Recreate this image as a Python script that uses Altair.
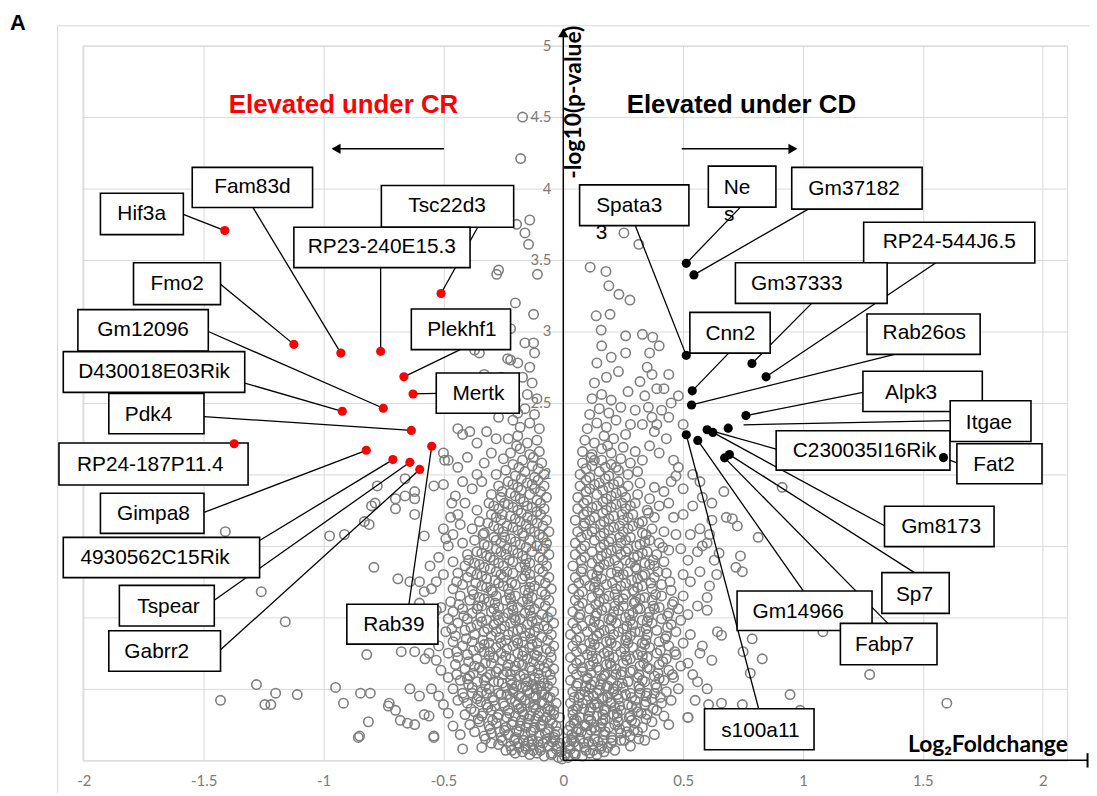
import altair as alt
import pandas as pd

# ---------------- grey genes (log2 fold change, -log10 p) ----------------
grey_left = [
 (-0.02,0.02),(-0.05,0.04),(-0.08,0.03),(-0.11,0.05),(-0.14,0.04),(-0.17,0.06),(-0.2,0.05),(-0.24,0.07),
 (-0.03,0.08),(-0.06,0.1),(-0.1,0.09),(-0.13,0.11),(-0.16,0.1),(-0.19,0.12),(-0.22,0.1),(-0.27,0.11),(-0.3,0.12),(-0.34,0.09),(-0.42,0.08),
 (-0.04,0.16),(-0.07,0.15),(-0.1,0.17),(-0.13,0.15),(-0.16,0.18),(-0.2,0.16),(-0.23,0.18),(-0.26,0.16),(-0.3,0.19),(-0.33,0.17),(-0.37,0.2),(-0.43,0.18),
 (-0.03,0.24),(-0.06,0.22),(-0.09,0.25),(-0.12,0.23),(-0.15,0.26),(-0.18,0.24),(-0.21,0.27),(-0.24,0.23),(-0.28,0.26),(-0.31,0.24),(-0.35,0.27),(-0.39,0.25),(-0.46,0.24),
 (-0.04,0.32),(-0.07,0.3),(-0.1,0.33),(-0.14,0.31),(-0.17,0.34),(-0.2,0.31),(-0.23,0.35),(-0.27,0.32),(-0.3,0.35),(-0.34,0.31),(-0.37,0.34),(-0.41,0.32),(-0.48,0.33),
 (-0.03,0.4),(-0.06,0.38),(-0.09,0.41),(-0.12,0.39),(-0.16,0.42),(-0.19,0.39),(-0.22,0.43),(-0.25,0.4),(-0.29,0.42),(-0.32,0.39),(-0.36,0.43),(-0.4,0.4),(-0.44,0.42),(-0.5,0.39),
 (-0.04,0.48),(-0.08,0.46),(-0.11,0.5),(-0.14,0.47),(-0.17,0.51),(-0.21,0.48),(-0.24,0.51),(-0.27,0.47),(-0.31,0.5),(-0.34,0.48),(-0.38,0.51),(-0.42,0.47),(-0.46,0.5),
 (-0.05,0.56),(-0.08,0.54),(-0.12,0.58),(-0.15,0.55),(-0.18,0.59),(-0.22,0.56),(-0.25,0.6),(-0.29,0.55),(-0.32,0.58),(-0.36,0.55),(-0.39,0.59),(-0.43,0.56),(-0.48,0.58),
 (-0.04,0.64),(-0.07,0.62),(-0.1,0.66),(-0.13,0.63),(-0.17,0.67),(-0.2,0.63),(-0.23,0.67),(-0.27,0.64),(-0.3,0.68),(-0.34,0.63),(-0.37,0.66),(-0.41,0.64),(-0.45,0.67),(-0.51,0.63),
 (-0.05,0.72),(-0.09,0.7),(-0.12,0.74),(-0.15,0.71),(-0.19,0.75),(-0.22,0.71),(-0.26,0.75),(-0.29,0.72),(-0.33,0.76),(-0.36,0.71),(-0.4,0.74),(-0.44,0.72),(-0.48,0.75),
 (-0.04,0.8),(-0.07,0.78),(-0.11,0.82),(-0.14,0.79),(-0.17,0.83),(-0.21,0.8),(-0.24,0.84),(-0.28,0.79),(-0.31,0.82),(-0.35,0.79),(-0.38,0.83),(-0.42,0.8),(-0.46,0.83),(-0.52,0.8),
 (-0.05,0.88),(-0.09,0.86),(-0.12,0.9),(-0.16,0.87),(-0.19,0.91),(-0.23,0.88),(-0.26,0.92),(-0.3,0.87),(-0.33,0.9),(-0.37,0.88),(-0.41,0.91),(-0.45,0.87),(-0.49,0.9),
 (-0.04,0.96),(-0.08,0.94),(-0.11,0.98),(-0.15,0.95),(-0.18,0.99),(-0.22,0.96),(-0.25,1.0),(-0.29,0.95),(-0.32,0.98),(-0.36,0.95),(-0.4,0.99),(-0.44,0.96),(-0.48,0.99),
 (-0.05,1.04),(-0.09,1.02),(-0.12,1.06),(-0.16,1.03),(-0.19,1.07),(-0.23,1.03),(-0.27,1.07),(-0.3,1.04),(-0.34,1.08),(-0.38,1.03),(-0.42,1.06),(-0.46,1.04),(-0.51,1.07),
 (-0.06,1.12),(-0.1,1.1),(-0.13,1.14),(-0.17,1.11),(-0.2,1.15),(-0.24,1.12),(-0.28,1.15),(-0.31,1.11),(-0.35,1.14),(-0.39,1.12),(-0.43,1.15),(-0.47,1.11),
 (-0.05,1.2),(-0.09,1.18),(-0.12,1.22),(-0.16,1.19),(-0.2,1.23),(-0.23,1.2),(-0.27,1.24),(-0.3,1.19),(-0.34,1.22),(-0.38,1.19),(-0.42,1.23),(-0.46,1.2),
 (-0.06,1.28),(-0.1,1.26),(-0.14,1.3),(-0.17,1.27),(-0.21,1.31),(-0.25,1.28),(-0.28,1.32),(-0.32,1.27),(-0.36,1.3),(-0.4,1.28),(-0.44,1.31),
 (-0.07,1.36),(-0.1,1.34),(-0.14,1.38),(-0.18,1.35),(-0.21,1.39),(-0.25,1.36),(-0.29,1.4),(-0.33,1.35),(-0.37,1.38),(-0.41,1.36),(-0.46,1.39),
 (-0.06,1.44),(-0.1,1.42),(-0.13,1.46),(-0.17,1.43),(-0.21,1.47),(-0.24,1.44),(-0.28,1.48),(-0.32,1.43),(-0.36,1.46),(-0.4,1.44),
 (-0.07,1.52),(-0.11,1.5),(-0.14,1.54),(-0.18,1.51),(-0.22,1.55),(-0.26,1.52),(-0.29,1.56),(-0.33,1.51),(-0.37,1.54),(-0.42,1.52),
 (-0.06,1.6),(-0.1,1.58),(-0.14,1.62),(-0.17,1.59),(-0.21,1.63),(-0.25,1.6),(-0.29,1.64),(-0.33,1.59),(-0.38,1.62),
 (-0.07,1.68),(-0.11,1.66),(-0.15,1.7),(-0.18,1.67),(-0.22,1.71),(-0.26,1.68),(-0.3,1.72),(-0.35,1.67),
 (-0.08,1.76),(-0.11,1.74),(-0.15,1.78),(-0.19,1.75),(-0.23,1.79),(-0.27,1.76),(-0.31,1.8),
 (-0.07,1.84),(-0.11,1.82),(-0.14,1.86),(-0.18,1.83),(-0.22,1.87),(-0.26,1.84),(-0.3,1.86),
 (-0.08,1.92),(-0.12,1.9),(-0.15,1.94),(-0.19,1.91),(-0.23,1.95),(-0.27,1.92),
 (-0.08,2.0),(-0.12,1.98),(-0.16,2.02),(-0.2,1.99),(-0.24,2.03),(-0.28,2.0),
 (-0.09,2.08),(-0.13,2.06),(-0.17,2.1),(-0.21,2.07),(-0.25,2.11),
 (-0.1,2.16),(-0.14,2.14),(-0.18,2.18),(-0.22,2.15),
 (-0.11,2.24),(-0.15,2.22),(-0.19,2.27),(-0.23,2.25),
 (-0.1,2.32),(-0.14,2.36),(-0.18,2.33),(-0.21,2.38),
 (-0.12,2.42),(-0.16,2.46),(-0.19,2.43),
 (-0.11,2.53),(-0.15,2.56),(-0.2,2.52),
 (-0.13,2.64),(-0.17,2.68),(-0.14,2.75),(-0.19,2.78),(-0.12,2.85),(-0.232,2.81),(-0.16,2.92),
 (-0.48,2.1),(-0.44,2.05),(-0.4,2.12),(-0.36,2.0),(-0.33,2.08),(-0.42,1.95),(-0.38,1.9),(-0.34,1.95),
 (-0.45,1.85),(-0.41,1.8),(-0.36,1.75),(-0.47,1.7),(-0.43,1.65),(-0.49,1.55),(-0.3,2.15),(-0.28,2.25),
 (-0.32,2.3),(-0.36,2.22),(-0.27,2.4),(-0.3,2.5),(-0.24,2.55),(-0.42,2.28),(-0.44,2.32),(-0.39,2.3),
 (-0.22,2.8),(-0.26,2.68),
 (-0.53,1.05),(-0.55,1.2),(-0.5,1.3),(-0.52,1.42),(-0.48,1.5),(-0.46,1.58),(-0.44,1.72),(-0.5,1.62),
 (-0.54,0.95),(-0.56,0.75),(-0.53,0.7),(-0.55,0.5),(-0.52,0.45),
]

grey_left_fill = [
 (-0.065,0.2),(-0.125,0.21),(-0.185,0.2),(-0.245,0.21),(-0.305,0.22),
 (-0.055,0.28),(-0.115,0.29),(-0.175,0.28),(-0.235,0.3),(-0.295,0.28),(-0.355,0.29),
 (-0.065,0.36),(-0.125,0.37),(-0.185,0.36),(-0.245,0.38),(-0.315,0.37),(-0.385,0.36),
 (-0.055,0.44),(-0.115,0.45),(-0.175,0.44),(-0.235,0.46),(-0.295,0.44),(-0.355,0.45),(-0.415,0.44),
 (-0.065,0.52),(-0.125,0.53),(-0.195,0.52),(-0.255,0.54),(-0.325,0.52),(-0.395,0.53),
 (-0.055,0.6),(-0.105,0.61),(-0.165,0.6),(-0.235,0.62),(-0.305,0.6),(-0.375,0.61),(-0.445,0.6),
 (-0.065,0.68),(-0.125,0.69),(-0.185,0.68),(-0.255,0.7),(-0.325,0.68),(-0.395,0.69),
 (-0.055,0.76),(-0.105,0.77),(-0.165,0.76),(-0.235,0.78),(-0.305,0.76),(-0.375,0.77),(-0.445,0.76),
 (-0.065,0.84),(-0.135,0.85),(-0.195,0.84),(-0.265,0.86),(-0.335,0.84),(-0.405,0.85),
 (-0.065,0.92),(-0.105,0.93),(-0.175,0.92),(-0.245,0.94),(-0.315,0.92),(-0.385,0.93),(-0.465,0.92),
 (-0.065,1.0),(-0.135,1.01),(-0.205,1.0),(-0.275,1.02),(-0.345,1.0),(-0.415,1.01),
 (-0.075,1.08),(-0.145,1.09),(-0.215,1.08),(-0.285,1.1),(-0.355,1.08),(-0.435,1.09),
 (-0.075,1.16),(-0.145,1.17),(-0.225,1.16),(-0.295,1.18),(-0.375,1.16),
 (-0.075,1.24),(-0.135,1.25),(-0.215,1.24),(-0.285,1.26),(-0.365,1.24),(-0.445,1.25),
 (-0.085,1.32),(-0.155,1.33),(-0.235,1.32),(-0.305,1.34),(-0.385,1.32),
 (-0.085,1.4),(-0.155,1.41),(-0.225,1.4),(-0.305,1.42),(-0.395,1.4),
 (-0.085,1.48),(-0.155,1.49),(-0.235,1.48),(-0.315,1.5),
 (-0.085,1.56),(-0.165,1.57),(-0.245,1.56),(-0.335,1.58),
 (-0.085,1.64),(-0.155,1.65),(-0.235,1.64),(-0.315,1.66),
 (-0.095,1.72),(-0.175,1.73),(-0.255,1.72),
 (-0.095,1.8),(-0.165,1.81),(-0.245,1.8),
 (-0.095,1.88),(-0.175,1.89),(-0.255,1.88),
 (-0.105,1.96),(-0.175,1.97),(-0.105,2.04),(-0.185,2.05),(-0.125,2.12),(-0.195,2.2),
 (-0.035,0.14),(-0.095,0.07),(-0.155,0.08),(-0.215,0.07),(-0.005,0.01),
 (-0.045,0.05),(-0.125,0.07),(-0.185,0.09),(-0.255,0.14),(-0.025,0.1),(-0.085,0.12),(-0.145,0.13),(-0.205,0.14),(-0.265,0.2),(-0.325,0.15),
 (-0.035,0.18),(-0.095,0.24),(-0.155,0.23),(-0.215,0.25),(-0.275,0.3),(-0.335,0.33),(-0.045,0.26),(-0.105,0.31),(-0.165,0.32),(-0.225,0.33),
 (-0.285,0.38),(-0.345,0.41),(-0.04,0.35),(-0.08,0.4),(-0.14,0.4),(-0.2,0.41),(-0.26,0.46),(-0.32,0.47),(-0.38,0.47),(-0.09,0.48),(-0.15,0.49),(-0.21,0.5),
 (-0.27,0.55),(-0.33,0.56),(-0.4,0.57),(-0.1,0.57),(-0.16,0.57),(-0.22,0.6),(-0.28,0.62),(-0.35,0.65),(-0.08,0.65),(-0.14,0.65),(-0.2,0.66),
 (-0.11,0.73),(-0.17,0.73),(-0.24,0.73),(-0.31,0.73),(-0.13,0.81),(-0.19,0.82),(-0.26,0.82),(-0.33,0.81),(-0.14,0.89),(-0.21,0.9),(-0.28,0.9),
 (-0.13,0.97),(-0.2,0.98),(-0.27,0.98),(-0.34,0.97),(-0.14,1.05),(-0.21,1.05),(-0.29,1.06),(-0.36,1.06),(-0.15,1.13),(-0.22,1.13),(-0.33,1.13),
 (-0.14,1.21),(-0.25,1.22),(-0.32,1.21),(-0.16,1.29),(-0.26,1.3),(-0.34,1.29),(-0.16,1.37),(-0.27,1.38),(-0.35,1.37),(-0.19,1.45),(-0.26,1.46),(-0.34,1.45),
 (-0.2,1.53),(-0.28,1.54),(-0.12,1.6),(-0.19,1.61),(-0.27,1.62),(-0.13,1.68),(-0.2,1.69),(-0.28,1.7),(-0.13,1.77),(-0.21,1.77),(-0.29,1.78),(-0.2,1.85),(-0.13,1.93),(-0.21,1.93),
]

grey_right = [
 (0.02,0.02),(0.05,0.04),(0.08,0.03),(0.11,0.05),(0.14,0.04),(0.17,0.06),(0.03,0.08),(0.06,0.1),(0.09,0.09),(0.12,0.11),(0.16,0.1),(0.2,0.12),(0.24,0.14),(0.34,0.14),(0.28,0.1),
 (0.04,0.16),(0.07,0.15),(0.1,0.18),(0.13,0.15),(0.17,0.18),(0.2,0.16),(0.24,0.19),(0.28,0.17),(0.31,0.2),(0.38,0.18),
 (0.03,0.24),(0.06,0.22),(0.09,0.25),(0.13,0.23),(0.16,0.26),(0.19,0.23),(0.23,0.27),(0.26,0.24),(0.3,0.26),(0.33,0.23),(0.37,0.27),(0.44,0.25),
 (0.04,0.32),(0.07,0.3),(0.11,0.34),(0.14,0.31),(0.17,0.35),(0.21,0.32),(0.24,0.35),(0.28,0.31),(0.31,0.34),(0.35,0.32),(0.39,0.35),(0.42,0.31),(0.52,0.3),
 (0.03,0.4),(0.06,0.38),(0.1,0.42),(0.13,0.39),(0.16,0.43),(0.2,0.4),(0.23,0.43),(0.27,0.39),(0.3,0.42),(0.34,0.39),(0.37,0.43),(0.41,0.4),(0.45,0.42),
 (0.04,0.48),(0.07,0.46),(0.11,0.5),(0.14,0.47),(0.18,0.51),(0.21,0.48),(0.25,0.51),(0.28,0.47),(0.32,0.5),(0.35,0.47),(0.39,0.51),(0.43,0.48),(0.48,0.5),
 (0.03,0.56),(0.06,0.54),(0.1,0.58),(0.13,0.55),(0.17,0.59),(0.2,0.56),(0.24,0.6),(0.27,0.55),(0.31,0.58),(0.34,0.55),(0.38,0.59),(0.42,0.56),(0.46,0.58),
 (0.04,0.64),(0.08,0.62),(0.11,0.66),(0.15,0.63),(0.18,0.67),(0.22,0.64),(0.25,0.68),(0.29,0.63),(0.32,0.66),(0.36,0.64),(0.4,0.67),(0.44,0.63),(0.49,0.66),
 (0.03,0.72),(0.07,0.7),(0.1,0.74),(0.14,0.71),(0.17,0.75),(0.21,0.72),(0.24,0.76),(0.28,0.71),(0.31,0.74),(0.35,0.72),(0.39,0.75),(0.43,0.71),(0.47,0.74),
 (0.04,0.8),(0.08,0.78),(0.11,0.82),(0.15,0.79),(0.18,0.83),(0.22,0.8),(0.26,0.84),(0.29,0.79),(0.33,0.82),(0.36,0.79),(0.4,0.83),(0.44,0.8),(0.5,0.82),
 (0.03,0.88),(0.07,0.86),(0.1,0.9),(0.14,0.87),(0.17,0.91),(0.21,0.88),(0.25,0.92),(0.28,0.87),(0.32,0.9),(0.35,0.88),(0.39,0.91),(0.43,0.87),(0.47,0.9),
 (0.04,0.96),(0.08,0.94),(0.11,0.98),(0.15,0.95),(0.19,0.99),(0.22,0.96),(0.26,1.0),(0.29,0.95),(0.33,0.98),(0.37,0.96),(0.41,0.99),(0.45,0.95),(0.49,0.98),
 (0.04,1.04),(0.07,1.02),(0.11,1.06),(0.14,1.03),(0.18,1.07),(0.21,1.04),(0.25,1.08),(0.29,1.03),(0.32,1.06),(0.36,1.04),(0.4,1.07),(0.44,1.03),(0.48,1.06),
 (0.05,1.12),(0.08,1.1),(0.12,1.14),(0.15,1.11),(0.19,1.15),(0.23,1.12),(0.26,1.16),(0.3,1.11),(0.34,1.14),(0.37,1.12),(0.41,1.15),(0.46,1.11),
 (0.04,1.2),(0.08,1.18),(0.11,1.22),(0.15,1.19),(0.18,1.23),(0.22,1.2),(0.26,1.24),(0.29,1.19),(0.33,1.22),(0.37,1.2),(0.41,1.23),(0.45,1.19),
 (0.05,1.28),(0.09,1.26),(0.12,1.3),(0.16,1.27),(0.2,1.31),(0.23,1.28),(0.27,1.32),(0.31,1.27),(0.34,1.3),(0.38,1.28),(0.43,1.31),
 (0.04,1.36),(0.08,1.34),(0.12,1.38),(0.15,1.35),(0.19,1.39),(0.23,1.36),(0.26,1.4),(0.3,1.35),(0.34,1.38),(0.38,1.36),(0.42,1.39),
 (0.05,1.44),(0.09,1.42),(0.12,1.46),(0.16,1.43),(0.2,1.47),(0.24,1.44),(0.27,1.48),(0.31,1.43),(0.35,1.46),(0.39,1.44),(0.44,1.47),
 (0.05,1.52),(0.09,1.5),(0.13,1.54),(0.17,1.51),(0.2,1.55),(0.24,1.52),(0.28,1.56),(0.32,1.51),(0.36,1.54),(0.4,1.52),
 (0.06,1.6),(0.1,1.58),(0.13,1.62),(0.17,1.59),(0.21,1.63),(0.25,1.6),(0.29,1.64),(0.33,1.59),(0.37,1.62),(0.42,1.6),
 (0.05,1.68),(0.09,1.66),(0.13,1.7),(0.17,1.67),(0.21,1.71),(0.25,1.68),(0.29,1.72),(0.33,1.67),(0.38,1.7),
 (0.06,1.76),(0.1,1.74),(0.14,1.78),(0.18,1.75),(0.22,1.79),(0.26,1.76),(0.3,1.8),(0.35,1.75),(0.4,1.78),
 (0.06,1.84),(0.1,1.82),(0.14,1.86),(0.18,1.83),(0.22,1.87),(0.26,1.84),(0.31,1.86),(0.36,1.83),
 (0.07,1.92),(0.11,1.9),(0.15,1.94),(0.19,1.91),(0.23,1.95),(0.27,1.92),(0.32,1.94),(0.38,1.91),
 (0.07,2.0),(0.11,1.98),(0.15,2.02),(0.19,1.99),(0.23,2.03),(0.27,2.0),(0.31,2.02),
 (0.08,2.08),(0.12,2.06),(0.16,2.1),(0.2,2.07),(0.24,2.11),(0.28,2.08),(0.33,2.1),
 (0.08,2.16),(0.12,2.14),(0.16,2.18),(0.2,2.15),(0.25,2.19),(0.3,2.16),
 (0.09,2.24),(0.13,2.22),(0.17,2.27),(0.21,2.25),(0.26,2.28),
 (0.1,2.32),(0.14,2.36),(0.18,2.33),(0.22,2.38),(0.28,2.35),
 (0.11,2.42),(0.15,2.46),(0.19,2.43),(0.24,2.47),
 (0.12,2.53),(0.16,2.56),(0.2,2.52),(0.27,2.58),
 (0.13,2.64),(0.18,2.68),(0.23,2.72),(0.14,2.78),(0.2,2.82),(0.26,2.85),(0.16,2.9),
 (0.158,3.01),(0.26,2.97),(0.33,2.98),(0.373,2.96),(0.137,3.11),(0.195,3.12),(0.232,3.26),(0.278,3.22),
 (0.19,3.32),(0.112,3.45),(0.178,3.42),(0.253,3.69),(0.315,3.61),
 (0.36,2.2),(0.4,2.15),(0.43,2.25),(0.37,2.4),(0.41,2.45),(0.34,2.55),(0.39,2.6),(0.36,2.85),(0.4,2.9),
 (0.32,2.65),(0.3,2.45),(0.33,2.35),(0.44,2.4),
 (0.52,1.02),(0.56,1.08),(0.6,1.14),(0.53,1.25),(0.57,1.32),(0.61,1.22),(0.64,1.3),(0.52,1.4),(0.56,1.46),
 (0.6,1.52),(0.65,1.45),(0.53,1.58),(0.57,1.62),(0.61,1.58),(0.5,1.72),(0.54,1.78),(0.58,1.84),(0.62,1.8),
 (0.67,1.88),(0.5,1.9),(0.54,2.0),(0.48,2.05),(0.42,1.88),(0.44,1.8),(0.46,1.7),(0.47,1.58),(0.49,1.48),
 (0.5,1.3),(0.5,1.15),(0.53,0.88),(0.57,0.75),(0.52,0.68),(0.54,0.6),
]

grey_right_fill = [
 (0.055,0.2),(0.115,0.21),(0.175,0.2),(0.235,0.22),(0.295,0.21),
 (0.045,0.28),(0.105,0.29),(0.165,0.28),(0.225,0.3),(0.285,0.28),(0.345,0.29),
 (0.055,0.36),(0.115,0.37),(0.175,0.36),(0.235,0.38),(0.305,0.37),(0.375,0.36),
 (0.045,0.44),(0.105,0.45),(0.165,0.44),(0.225,0.46),(0.285,0.44),(0.345,0.45),(0.405,0.44),
 (0.055,0.52),(0.115,0.53),(0.185,0.52),(0.245,0.54),(0.315,0.52),(0.385,0.53),
 (0.055,0.6),(0.115,0.61),(0.175,0.6),(0.245,0.62),(0.315,0.6),(0.395,0.61),(0.455,0.6),
 (0.055,0.68),(0.125,0.69),(0.195,0.68),(0.265,0.7),(0.335,0.68),(0.415,0.69),
 (0.055,0.76),(0.115,0.77),(0.185,0.76),(0.255,0.78),(0.325,0.76),(0.405,0.77),(0.465,0.76),
 (0.055,0.84),(0.125,0.85),(0.195,0.84),(0.265,0.86),(0.345,0.84),(0.425,0.85),
 (0.055,0.92),(0.125,0.93),(0.195,0.92),(0.265,0.94),(0.345,0.92),(0.435,0.93),
 (0.065,1.0),(0.135,1.01),(0.205,1.0),(0.275,1.02),(0.355,1.0),(0.435,1.01),
 (0.065,1.08),(0.135,1.09),(0.215,1.08),(0.295,1.1),(0.375,1.08),(0.455,1.09),
 (0.065,1.16),(0.145,1.17),(0.215,1.16),(0.295,1.18),(0.385,1.16),
 (0.065,1.24),(0.135,1.25),(0.205,1.24),(0.285,1.26),(0.365,1.24),(0.445,1.25),
 (0.075,1.32),(0.145,1.33),(0.225,1.32),(0.305,1.34),(0.395,1.32),
 (0.075,1.4),(0.145,1.41),(0.215,1.4),(0.295,1.42),(0.375,1.4),
 (0.075,1.48),(0.155,1.49),(0.225,1.48),(0.305,1.5),(0.415,1.49),
 (0.075,1.56),(0.155,1.57),(0.235,1.56),(0.345,1.58),
 (0.085,1.64),(0.155,1.65),(0.235,1.64),(0.315,1.66),
 (0.085,1.72),(0.165,1.73),(0.245,1.72),(0.355,1.73),
 (0.085,1.8),(0.165,1.81),(0.245,1.8),
 (0.095,1.88),(0.165,1.89),(0.245,1.88),
 (0.095,1.96),(0.175,1.97),(0.095,2.04),(0.175,2.05),(0.115,2.12),(0.185,2.2),
 (0.035,0.14),(0.095,0.07),(0.155,0.08),(0.215,0.07),(0.005,0.03),
 (0.045,0.05),(0.125,0.07),(0.185,0.09),(0.255,0.14),(0.025,0.1),(0.085,0.12),(0.145,0.13),(0.205,0.14),(0.265,0.2),(0.315,0.15),
 (0.035,0.18),(0.095,0.24),(0.155,0.23),(0.215,0.25),(0.275,0.3),(0.325,0.33),(0.045,0.26),(0.105,0.31),(0.165,0.32),(0.225,0.33),
 (0.285,0.38),(0.345,0.41),(0.04,0.35),(0.08,0.4),(0.14,0.4),(0.2,0.41),(0.26,0.46),(0.32,0.47),(0.38,0.47),(0.09,0.48),(0.15,0.49),(0.21,0.5),
 (0.27,0.55),(0.33,0.56),(0.4,0.57),(0.1,0.57),(0.16,0.57),(0.22,0.6),(0.28,0.62),(0.35,0.65),(0.08,0.65),(0.14,0.65),(0.2,0.66),
 (0.12,0.73),(0.19,0.73),(0.26,0.73),(0.33,0.73),(0.13,0.81),(0.2,0.82),(0.27,0.82),(0.34,0.81),(0.15,0.89),(0.23,0.9),(0.3,0.9),
 (0.13,0.97),(0.2,0.98),(0.28,0.98),(0.35,0.97),(0.16,1.05),(0.23,1.05),(0.31,1.06),(0.38,1.06),(0.17,1.13),(0.25,1.13),(0.32,1.13),
 (0.13,1.21),(0.24,1.22),(0.31,1.21),(0.14,1.29),(0.25,1.3),(0.33,1.29),(0.17,1.37),(0.28,1.38),(0.36,1.37),(0.18,1.45),(0.26,1.46),(0.33,1.45),
 (0.19,1.53),(0.26,1.54),(0.34,1.53),(0.12,1.6),(0.19,1.61),(0.27,1.62),(0.11,1.68),(0.19,1.69),(0.27,1.7),(0.12,1.77),(0.2,1.77),(0.28,1.78),
 (0.2,1.85),(0.13,1.93),(0.21,1.93),(0.13,2.1),(0.22,2.05),
]

grey_centre = [
 (-0.015,0.12),(-0.025,0.2),(-0.015,0.3),(0.015,0.13),(0.02,0.21),(0.01,0.05),(-0.01,0.06),
 (-0.045,0.13),(-0.075,0.19),(-0.105,0.13),(-0.135,0.2),(-0.165,0.14),(-0.195,0.21),(-0.085,0.28),
 (-0.115,0.36),(-0.145,0.29),(-0.055,0.35),(-0.175,0.37),(-0.065,0.44),(-0.095,0.52),(-0.125,0.44),
 (-0.155,0.52),(-0.185,0.45),(-0.215,0.53),(0.045,0.13),(0.075,0.2),(0.105,0.13),(0.135,0.21),
 (0.165,0.14),(0.055,0.28),(0.085,0.36),(0.115,0.28),(0.145,0.37),(0.175,0.29),(0.065,0.44),
 (0.095,0.52),(0.125,0.45),(0.155,0.53),(0.185,0.44),(0.215,0.37),(0.225,0.52),
]

grey_outliers = [
 (-1.41,1.6),(-1.26,1.18),(-1.16,0.97),(-1.28,0.53),(-1.2,0.47),(-1.11,0.46),(-1.245,0.39),(-1.22,0.39),
 (-1.43,0.42),(-0.975,1.57),(-0.913,1.58),(-0.83,1.67),(-0.81,1.65),(-0.79,1.35),(-0.95,0.51),(-0.917,0.4),
 (-0.846,0.47),(-0.805,0.47),(-0.726,0.4),(-0.813,0.27),(-0.85,0.17),(-0.68,0.28),(-0.65,0.26),(-0.62,0.25),
 (-0.58,0.32),(-0.56,0.31),(-0.54,0.17),(-0.64,0.5),(-0.82,0.74),(-0.676,0.76),(-0.62,0.76),(-0.577,0.71),
 (-0.69,1.27),(-0.64,1.25),(-0.6,1.25),(-0.556,1.36),(-0.8,1.78),(-0.785,1.8),(-0.776,1.92),(-0.7,1.83),
 (-0.7,1.76),(-0.66,1.85),(-0.62,1.83),(-0.62,1.88),(-0.62,1.72),(-0.58,1.57),(-0.66,1.97),(-0.54,1.92),
 (-0.5,1.93),(-0.5,2.15),(-0.495,2.1),(-0.465,1.8),(-0.855,0.16),(-0.54,0.16),
 (-0.6,1.1),(-0.57,1.0),(-0.55,0.88),(-0.58,1.18),(-0.53,1.25),(-0.6,0.45),(-0.7,0.35),(-0.73,0.38),
 (-0.37,2.87),(-0.35,2.85),(-0.124,2.92),(-0.124,3.12),(-0.108,3.4),(-0.278,3.4),(-0.27,3.43),
 (-0.145,3.61),(-0.195,3.75),(-0.14,3.78),(-0.16,3.69),(-0.17,4.5),(-0.178,4.21),(-0.2,3.2),(-0.22,3.02),
 (-0.28,2.95),(-0.3,2.65),(-0.33,2.7),
 (0.913,1.91),(0.813,1.56),(0.739,1.43),(0.747,1.32),(0.705,1.69),(0.726,1.64),(0.643,0.9),(0.66,0.875),
 (0.788,0.85),(0.75,0.76),(0.83,0.71),(0.78,0.61),(1.278,0.6),(0.946,0.46),(1.6,0.4),(1.083,0.9),
 (0.747,0.39),(0.66,0.4),(0.606,0.39),(0.988,0.35),(0.52,0.3),(0.58,1.5),(0.6,1.05),(0.62,0.7),
 (0.56,0.55),(0.57,1.95),(0.5,2.35),(0.46,2.1),(0.42,2.6),(0.38,2.3),(0.35,2.75),(0.48,2.55),(0.45,1.95),
 (0.63,1.4),(0.58,0.8),(0.6,0.5),(0.55,0.42),(0.62,1.68),(0.68,1.7),(0.72,1.35),(0.37,2.7),(0.44,2.7),
 (0.355,2.47),(0.45,2.5),(0.39,2.35),(0.47,1.99),
]

# ---------------- labelled genes ----------------
gene_names = ["Hif3a","Fam83d","Tsc22d3","RP23-240E15.3","Fmo2","Plekhf1","Mertk","Gm12096",
              "D430018E03Rik","Pdk4","RP24-187P11.4","Gimpa8","4930562C15Rik","Tspear","Gabrr2","Rab39",
              "Nes","Gm37182","Spata33","RP24-544J6.5","Gm37333","Cnn2","Rab26os","Alpk3",
              "Itgae","C230035I16Rik","Fat2","Gm8173","Sp7","Gm14966","Fabp7","s100a11"]
box_text = ["Hif3a","Fam83d","Tsc22d3","RP23-240E15.3","Fmo2","Plekhf1","Mertk","Gm12096",
            "D430018E03Rik","Pdk4","RP24-187P11.4","Gimpa8","4930562C15Rik","Tspear","Gabrr2","Rab39",
            "Ne","Gm37182","Spata3","RP24-544J6.5","Gm37333","Cnn2","Rab26os","Alpk3",
            "Itgae","C230035I16Rik","Fat2","Gm8173","Sp7","Gm14966","Fabp7","s100a11"]
gene_group = ["CR"] * 16 + ["CD"] * 16
gene_x = [-1.412,-0.928,-0.510,-0.762,-1.124,-0.665,-0.627,-0.751,-0.922,-0.634,-1.373,-0.822,-0.711,-0.640,-0.599,-0.549,
          0.513,0.545,0.513,0.846,0.787,0.538,0.535,0.762,0.688,0.600,1.586,0.624,0.693,0.561,0.673,0.513]
gene_y = [3.706,2.849,3.266,2.861,2.910,2.683,2.563,2.463,2.442,2.308,2.215,2.169,2.104,2.085,2.035,2.197,
          3.477,3.396,2.833,2.683,2.776,2.585,2.486,2.412,2.324,2.313,2.118,2.294,2.139,2.238,2.116,2.278]

# annotation boxes, label anchors and leader lines (data units)
box_x1 = [-1.931,-1.548,-0.759,-1.124,-1.793,-0.634,-0.530,-2.025,-2.086,-1.896,-2.104,-1.931,-2.086,-1.852,-1.896,-0.903,
          0.605,0.953,0.068,1.253,0.718,0.528,1.267,1.250,1.614,0.888,1.642,1.340,1.329,0.725,1.156,0.589]
box_x2 = [-1.585,-1.046,-0.207,-0.389,-1.430,-0.220,-0.184,-1.481,-1.329,-1.499,-1.315,-1.499,-1.267,-1.456,-1.430,-0.523,
          0.887,1.497,0.524,1.967,1.351,0.863,1.739,1.748,1.951,1.613,1.997,1.797,1.610,1.288,1.559,1.046]
box_y1 = [3.678,3.868,3.729,3.447,3.188,2.873,2.428,2.863,2.574,2.285,1.926,1.588,1.278,0.940,0.623,0.813,
          3.870,3.856,3.741,3.479,3.197,2.849,2.840,2.440,2.231,2.030,1.935,1.495,1.028,0.908,0.669,0.074]
box_y2 = [3.967,4.148,4.021,3.729,3.481,3.158,2.710,3.153,2.859,2.567,2.220,1.868,1.560,1.224,0.907,1.092,
          4.157,4.148,4.026,3.764,3.481,3.134,3.123,2.722,2.516,2.306,2.215,1.778,1.313,1.185,0.958,0.361]
text_x = [-1.759,-1.297,-0.485,-0.757,-1.611,-0.423,-0.354,-1.753,-1.707,-1.730,-1.723,-1.710,-1.703,-1.647,-1.696,-0.707,
          0.725,1.213,0.275,1.610,0.974,0.697,1.506,1.451,1.776,1.257,1.797,1.576,1.465,0.980,1.340,0.822]
text_y = [3.819,4.008,3.875,3.588,3.333,3.007,2.563,3.007,2.715,2.417,2.069,1.722,1.415,1.074,0.757,0.947,
          4.002,3.995,3.875,3.625,3.331,2.984,2.986,2.567,2.363,2.162,2.069,1.630,1.155,1.040,0.808,0.206]
lead_x = [-1.585,-1.295,-0.357,-0.762,-1.430,-0.430,-0.530,-1.481,-1.329,-1.499,-1.318,-1.499,-1.267,-1.456,-1.430,-0.644,
          0.739,1.022,0.300,1.553,1.036,0.690,1.382,1.250,1.614,0.888,1.642,1.340,1.465,1.001,1.354,0.815]
lead_y = [3.819,3.868,3.729,3.447,3.331,2.873,2.567,3.000,2.639,2.405,2.081,1.734,1.538,1.120,0.773,1.092,
          3.870,3.856,3.741,3.479,3.197,2.849,2.840,2.574,2.377,2.178,2.081,1.641,1.313,1.185,0.958,0.361]
lead_end_x = [-1.412,-0.928,-0.510,-0.762,-1.124,-0.665,-0.627,-0.751,-0.922,-0.634,-1.373,-0.822,-0.711,-0.640,-0.599,-0.549,
              0.513,0.545,0.513,0.846,0.787,0.538,0.535,0.762,0.752,0.600,1.586,0.624,0.693,0.561,0.673,0.513]
lead_end_y = [3.706,2.849,3.266,2.861,2.910,2.683,2.563,2.463,2.442,2.308,2.215,2.169,2.104,2.085,2.035,2.197,
              3.477,3.396,2.833,2.683,2.776,2.585,2.486,2.412,2.347,2.313,2.118,2.294,2.139,2.238,2.116,2.278]

# wrapped second lines of two labels
wrap_text = ["s", "3"]
wrap_x = [0.670, 0.135]
wrap_y = [3.817, 3.690]

x_ticks = [-2, -1.5, -1, -0.5, 0, 0.5, 1, 1.5, 2]
y_ticks = [0.5, 1, 1.5, 2, 2.5, 3, 3.5, 4, 4.5, 5]
y_tick_labels = ["0.5", "1", "1.5", "2", "2.5", "3", "3.5", "4", "4.5", "5"]

heading_text = ["Elevated under CR", "Elevated under CD"]
heading_x = [-0.917, 0.743]
heading_y = [4.528, 4.528]
heading_col = ["#ff0000", "#000000"]
arrow_x1 = [-0.945, 0.494]
arrow_x2 = [-0.498, 0.955]
arrow_y = [4.278, 4.278]
arrow_head_x = [-0.948, 0.958]

# ---------------- build ----------------
W, H = 992, 720
xs = alt.Scale(domain=[-2.006, 2.102], nice=False, zero=False)
ys = alt.Scale(domain=[0, 5], nice=False, zero=False)
TICK_GREY = "#7a7a7a"
X_AX = alt.Axis(values=x_ticks, grid=True, gridColor="#d9d9d9", gridWidth=1, domain=False, ticks=False,
                labelColor=TICK_GREY, labelFontSize=15, labelFont="Lato", labelPadding=13, labelFlush=False,
                labelOverlap=False, title=None, labelExpr="'' + datum.value")
Y_AX = alt.Axis(values=[0] + y_ticks, grid=True, gridColor="#d9d9d9", gridWidth=1, domain=False, ticks=False,
                labels=False, title=None)
BOX_FONT = "Liberation Sans"


def X(f):
    return alt.X(f, scale=xs, axis=X_AX)


def Y(f):
    return alt.Y(f, scale=ys, axis=Y_AX)


grey_df = pd.DataFrame(grey_left + grey_left_fill + grey_right + grey_right_fill + grey_centre + grey_outliers,
                       columns=["x", "y"])
genes = pd.DataFrame(dict(name=gene_names, label=box_text, group=gene_group, x=gene_x, y=gene_y,
                          bx1=box_x1, bx2=box_x2, by1=box_y1, by2=box_y2, tx=text_x, ty=text_y,
                          lx=lead_x, ly=lead_y, ex=lead_end_x, ey=lead_end_y))
genes["col"] = genes["group"].map({"CR": "#ff0000", "CD": "#000000"})
wrap_df = pd.DataFrame(dict(t=wrap_text, x=wrap_x, y=wrap_y))
ytick_df = pd.DataFrame(dict(v=y_ticks, t=y_tick_labels, z=[0] * len(y_ticks)))
head_df = pd.DataFrame(dict(t=heading_text, x=heading_x, y=heading_y, c=heading_col))
arrow_df = pd.DataFrame(dict(x1=arrow_x1, x2=arrow_x2, y=arrow_y))
head_l = pd.DataFrame(dict(x=[arrow_head_x[0]], y=[arrow_y[0]]))
head_r = pd.DataFrame(dict(x=[arrow_head_x[1]], y=[arrow_y[1]]))
one = pd.DataFrame({"a": [0]})

frame = alt.Chart(one).mark_rect(filled=False, stroke="#d9d9d9", strokeWidth=1).encode(
    x=alt.value(-25), x2=alt.value(1200), y=alt.value(-20), y2=alt.value(900))

grey = alt.Chart(grey_df).mark_point(shape="circle", filled=False, size=90, strokeWidth=1.6,
                                     color="#7f7f7f", opacity=1).encode(x=X("x:Q"), y=Y("y:Q"))

y_line = alt.Chart(pd.DataFrame(dict(x=[0], y=[0], y2=[5.1]))).mark_rule(color="black", strokeWidth=1.5).encode(
    x=X("x:Q"), y=Y("y:Q"), y2="y2:Q")
y_arrow = alt.Chart(pd.DataFrame(dict(x=[0], y=[5.09]))).mark_point(shape="triangle-up", filled=True, size=110,
                                                                    color="black", opacity=1).encode(
    x=X("x:Q"), y=Y("y:Q"))
x_line = alt.Chart(pd.DataFrame(dict(x=[0], x2=[2.187], y=[0]))).mark_rule(color="black", strokeWidth=1.5).encode(
    x=X("x:Q"), x2="x2:Q", y=Y("y:Q"))
x_end = alt.Chart(pd.DataFrame(dict(x=[2.187], y=[-0.05], y2=[0.05]))).mark_rule(color="black", strokeWidth=2).encode(
    x=X("x:Q"), y=Y("y:Q"), y2="y2:Q")

ylabels = alt.Chart(ytick_df).mark_text(align="right", baseline="middle", dx=-12, fontSize=15, font="Lato",
                                        color=TICK_GREY).encode(x=X("z:Q"), y=Y("v:Q"), text="t:N")

leaders = alt.Chart(genes).mark_rule(color="black", strokeWidth=1.3).encode(
    x=X("lx:Q"), y=Y("ly:Q"), x2="ex:Q", y2="ey:Q")

boxes = alt.Chart(genes).mark_rect(fill="white", stroke="black", strokeWidth=1.6).encode(
    x=X("bx1:Q"), x2="bx2:Q", y=Y("by1:Q"), y2="by2:Q")

dots = alt.Chart(genes).mark_circle(size=85, opacity=1).encode(
    x=X("x:Q"), y=Y("y:Q"), color=alt.Color("col:N", scale=None))

labels = alt.Chart(genes).mark_text(align="center", baseline="middle", font=BOX_FONT, fontSize=21,
                                    color="black").encode(x=X("tx:Q"), y=Y("ty:Q"), text="label:N")
wraps = alt.Chart(wrap_df).mark_text(align="left", baseline="middle", font=BOX_FONT, fontSize=21,
                                     color="black").encode(x=X("x:Q"), y=Y("y:Q"), text="t:N")

headings = alt.Chart(head_df).mark_text(align="center", baseline="alphabetic", font=BOX_FONT, fontSize=26,
                                        fontWeight="bold").encode(
    x=X("x:Q"), y=Y("y:Q"), text="t:N", color=alt.Color("c:N", scale=None))
arrows = alt.Chart(arrow_df).mark_rule(color="black", strokeWidth=1.5).encode(
    x=X("x1:Q"), x2="x2:Q", y=Y("y:Q"))
arrow_l = alt.Chart(head_l).mark_point(shape="triangle-left", filled=True, size=110, color="black", opacity=1).encode(
    x=X("x:Q"), y=Y("y:Q"))
arrow_r = alt.Chart(head_r).mark_point(shape="triangle-right", filled=True, size=110, color="black", opacity=1).encode(
    x=X("x:Q"), y=Y("y:Q"))

ytitle = alt.Chart(pd.DataFrame(dict(x=[0.045], y=[4.604], t=["-log10(p-value)"]))).mark_text(
    angle=270, align="center", baseline="middle", font="Lato", fontSize=23, fontWeight="bold", color="black").encode(
    x=X("x:Q"), y=Y("y:Q"), text="t:N")
xtitle = alt.Chart(pd.DataFrame(dict(x=[2.105], y=[0.056], t=["Log\u2082Foldchange"]))).mark_text(
    align="right", baseline="alphabetic", font="Lato", fontSize=23, fontWeight="bold", color="black").encode(
    x=X("x:Q"), y=Y("y:Q"), text="t:N")
panel = alt.Chart(pd.DataFrame(dict(t=["A"]))).mark_text(
    align="center", baseline="middle", font=BOX_FONT, fontSize=22, fontWeight="bold", color="black").encode(
    x=alt.value(-65), y=alt.value(-23), text="t:N")

chart = alt.layer(
    frame, grey, y_line, x_line, x_end, y_arrow, ylabels, leaders, boxes, dots, labels, wraps,
    headings, arrows, arrow_l, arrow_r, ytitle, xtitle, panel
).properties(
    width=W, height=H,
    padding={"left": 75, "top": 35, "right": 22, "bottom": 30},
    autosize=alt.AutoSizeParams(type="none"),
).configure_view(stroke="#d9d9d9", strokeWidth=1)

chart.save("out.html", embed_options={"renderer": "svg", "actions": False})
